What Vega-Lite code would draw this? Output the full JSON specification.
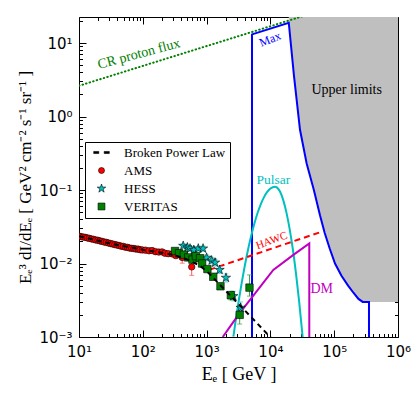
{
"$schema": "https://vega.github.io/schema/vega-lite/v6.json",
"width": 319, "height": 320,
"autosize": {"type": "none"},
"padding": {"left": 79, "top": 17, "right": 17, "bottom": 58},
"background": "white",
"config": {"view": {"stroke": "black", "strokeWidth": 1}, "axis": {"grid": false, "domain": false, "tickColor": "black", "labelColor": "black", "titleColor": "black"}},
"datasets": {
"ul": [{"E":19400,"F":18.9},{"E":23400,"F":3.6},{"E":29100,"F":0.66},{"E":37000,"F":0.23},{"E":48000,"F":0.1},{"E":60000,"F":0.045},{"E":71000,"F":0.026},{"E":85000,"F":0.016},{"E":103000,"F":0.01},{"E":130000,"F":0.0068},{"E":165000,"F":0.005},{"E":200000,"F":0.004},{"E":240000,"F":0.0033},{"E":280000,"F":0.003},{"E":351000,"F":0.003},{"E":1000000,"F":0.003}],
"blue": [{"i":0,"E":5150,"F":0.001},{"i":1,"E":5150,"F":13.1},{"i":2,"E":19400,"F":18.9},{"i":3,"E":23400,"F":3.6},{"i":4,"E":29100,"F":0.66},{"i":5,"E":37000,"F":0.23},{"i":6,"E":48000,"F":0.1},{"i":7,"E":60000,"F":0.045},{"i":8,"E":71000,"F":0.026},{"i":9,"E":85000,"F":0.016},{"i":10,"E":103000,"F":0.01},{"i":11,"E":130000,"F":0.0068},{"i":12,"E":165000,"F":0.005},{"i":13,"E":200000,"F":0.004},{"i":14,"E":240000,"F":0.0033},{"i":15,"E":280000,"F":0.003},{"i":16,"E":351000,"F":0.003},{"i":17,"E":351000,"F":0.001}],
"green": [{"E":10,"F":2.62},{"E":100000,"F":31.5}],
"hawc": [{"E":1100,"F":0.0082},{"E":63700,"F":0.0271}],
"pulsar": [{"E":2630,"F":0.00101},{"E":2818,"F":0.00154},{"E":3162,"F":0.00299},{"E":3548,"F":0.00546},{"E":3981,"F":0.00946},{"E":4467,"F":0.0155},{"E":5012,"F":0.024},{"E":5623,"F":0.0352},{"E":6310,"F":0.049},{"E":7079,"F":0.0643},{"E":7943,"F":0.08},{"E":8913,"F":0.0942},{"E":10000,"F":0.1047},{"E":11800,"F":0.111},{"E":12590,"F":0.1088},{"E":14130,"F":0.0953},{"E":15850,"F":0.0735},{"E":17780,"F":0.05},{"E":19950,"F":0.03},{"E":22390,"F":0.016},{"E":25120,"F":0.00745},{"E":28180,"F":0.00308},{"E":31620,"F":0.00112},{"E":32000,"F":0.001}],
"dm": [{"i":0,"E":1790,"F":0.001},{"i":1,"E":2500,"F":0.00151},{"i":2,"E":3340,"F":0.00214},{"i":3,"E":5000,"F":0.00336},{"i":4,"E":7500,"F":0.0053},{"i":5,"E":11100,"F":0.00816},{"i":6,"E":22900,"F":0.0131},{"i":7,"E":40700,"F":0.0188},{"i":8,"E":40700,"F":0.001}],
"bpl": [{"E":10,"F":0.0236},{"E":30,"F":0.0188},{"E":100,"F":0.0154},{"E":200,"F":0.014},{"E":300,"F":0.0131},{"E":450,"F":0.0118},{"E":600,"F":0.0105},{"E":800,"F":0.0092},{"E":1000,"F":0.0079},{"E":1500,"F":0.0055},{"E":2330,"F":0.0037},{"E":5000,"F":0.00187},{"E":9900,"F":0.001},{"E":13000,"F":0.00078}],
"pts": [
{"s":"AMS","E":10,"F":0.0236},{"s":"AMS","E":10.8,"F":0.0232},{"s":"AMS","E":11.6,"F":0.0229},{"s":"AMS","E":12.5,"F":0.0227},{"s":"AMS","E":13.5,"F":0.0223},{"s":"AMS","E":14.5,"F":0.022},{"s":"AMS","E":15.7,"F":0.0216},{"s":"AMS","E":17,"F":0.0213},{"s":"AMS","E":18.3,"F":0.0209},{"s":"AMS","E":19.8,"F":0.0207},{"s":"AMS","E":21.3,"F":0.0203},{"s":"AMS","E":23,"F":0.02},{"s":"AMS","E":24.8,"F":0.0196},{"s":"AMS","E":26.8,"F":0.0194},{"s":"AMS","E":28.9,"F":0.019},{"s":"AMS","E":31.2,"F":0.0187},{"s":"AMS","E":33.7,"F":0.0184},{"s":"AMS","E":36.4,"F":0.0181},{"s":"AMS","E":39.3,"F":0.0178},{"s":"AMS","E":42.4,"F":0.0176},{"s":"AMS","E":45.8,"F":0.0172},{"s":"AMS","E":49.4,"F":0.0171},{"s":"AMS","E":53.3,"F":0.0167},{"s":"AMS","E":57.5,"F":0.0166},{"s":"AMS","E":62.1,"F":0.0162},{"s":"AMS","E":67,"F":0.0161},{"s":"AMS","E":72.3,"F":0.016},{"s":"AMS","E":78,"F":0.0157},{"s":"AMS","E":84.2,"F":0.0157},{"s":"AMS","E":90.9,"F":0.0154},{"s":"AMS","E":98.1,"F":0.0153},{"s":"AMS","E":110,"F":0.0152},{"s":"AMS","E":125,"F":0.0149},{"s":"AMS","E":140,"F":0.015},{"s":"AMS","E":158,"F":0.0145},{"s":"AMS","E":178,"F":0.0143},{"s":"AMS","E":200,"F":0.0144},{"s":"AMS","E":222,"F":0.0138},{"s":"AMS","E":250,"F":0.0136},{"s":"AMS","E":290,"F":0.0135,"lo":0.0129,"hi":0.0141},{"s":"AMS","E":330,"F":0.0128,"lo":0.0121,"hi":0.0135},{"s":"AMS","E":415,"F":0.0121,"lo":0.0101,"hi":0.0128},{"s":"AMS","E":584,"F":0.009,"lo":0.0069,"hi":0.0106},
{"s":"HESS","E":430,"F":0.0174,"lo":0.0163,"hi":0.0185},{"s":"HESS","E":500,"F":0.0166,"lo":0.0155,"hi":0.0177},{"s":"HESS","E":550,"F":0.016,"lo":0.0149,"hi":0.0171},{"s":"HESS","E":630,"F":0.0153,"lo":0.0142,"hi":0.0164},{"s":"HESS","E":740,"F":0.016,"lo":0.0148,"hi":0.0172},{"s":"HESS","E":880,"F":0.016,"lo":0.0147,"hi":0.0173},{"s":"HESS","E":1000,"F":0.012,"lo":0.0109,"hi":0.0131},{"s":"HESS","E":1200,"F":0.011,"lo":0.0099,"hi":0.0121},{"s":"HESS","E":1360,"F":0.0103,"lo":0.0092,"hi":0.0114},{"s":"HESS","E":1600,"F":0.0082,"lo":0.0073,"hi":0.0091},{"s":"HESS","E":2010,"F":0.0064,"lo":0.0056,"hi":0.0072},{"s":"HESS","E":2620,"F":0.0036,"lo":0.0031,"hi":0.0042},{"s":"HESS","E":3420,"F":0.0025,"lo":0.0021,"hi":0.003},
{"s":"VERITAS","E":320,"F":0.0148,"lo":0.0139,"hi":0.0157},{"s":"VERITAS","E":370,"F":0.0138,"lo":0.013,"hi":0.0146},{"s":"VERITAS","E":440,"F":0.0132,"lo":0.0124,"hi":0.014},{"s":"VERITAS","E":515,"F":0.0121,"lo":0.0113,"hi":0.0129},{"s":"VERITAS","E":600,"F":0.0113,"lo":0.0105,"hi":0.0121},{"s":"VERITAS","E":680,"F":0.0126,"lo":0.0118,"hi":0.0134},{"s":"VERITAS","E":790,"F":0.0118,"lo":0.011,"hi":0.0126},{"s":"VERITAS","E":850,"F":0.01,"lo":0.0093,"hi":0.0107},{"s":"VERITAS","E":1030,"F":0.0084,"lo":0.0078,"hi":0.009},{"s":"VERITAS","E":1270,"F":0.0066,"lo":0.0061,"hi":0.0071},{"s":"VERITAS","E":1650,"F":0.0049,"lo":0.0045,"hi":0.0053},{"s":"VERITAS","E":2400,"F":0.0037,"lo":0.0032,"hi":0.0042},{"s":"VERITAS","E":3300,"F":0.002,"lo":0.0015,"hi":0.0027},{"s":"VERITAS","E":4700,"F":0.0047,"lo":0.0036,"hi":0.007}
]
},
"encoding": {
"x": {"field": "E", "type": "quantitative", "scale": {"type": "log", "domain": [10, 1000000], "nice": false}, "axis": null},
"y": {"field": "F", "type": "quantitative", "scale": {"type": "log", "domain": [0.001, 22.6], "nice": false}, "axis": null}
},
"layer": [
{"data": {"name": "ul"}, "mark": {"type": "area", "color": "#bfbfbf", "clip": true},
 "encoding": {
  "x": {"field": "E", "type": "quantitative", "scale": {"type": "log", "domain": [10, 1000000], "nice": false},
   "axis": {"orient": "bottom", "values": [10,20,30,40,50,60,70,80,90,100,200,300,400,500,600,700,800,900,1000,2000,3000,4000,5000,6000,7000,8000,9000,10000,20000,30000,40000,50000,60000,70000,80000,90000,100000,200000,300000,400000,500000,600000,700000,800000,900000,1000000],
    "labelExpr": "abs(log(datum.value)/LN10-round(log(datum.value)/LN10))<1e-6 ? ['10⁻³','10⁻²','10⁻¹','10⁰','10¹','10²','10³','10⁴','10⁵','10⁶'][round(log(datum.value)/LN10)+3] : ''",
    "labelOverlap": false, "labelFont": "DejaVu Sans", "labelFontSize": 15, "labelPadding": 14, "labelFlush": false,
    "tickSize": {"condition": {"test": "abs(log(datum.value)/LN10-round(log(datum.value)/LN10))<1e-6", "value": -7}, "value": -3.5},
    "title": "Eₑ  [ GeV ]", "titleFont": "Liberation Serif", "titleFontSize": 18, "titleFontWeight": "normal", "titlePadding": 3}},
  "y": {"field": "F", "type": "quantitative", "scale": {"type": "log", "domain": [0.001, 22.6], "nice": false},
   "axis": {"orient": "left", "values": [0.001,0.002,0.003,0.004,0.005,0.006,0.007,0.008,0.009,0.01,0.02,0.03,0.04,0.05,0.06,0.07,0.08,0.09,0.1,0.2,0.3,0.4,0.5,0.6,0.7,0.8,0.9,1,2,3,4,5,6,7,8,9,10,20],
    "labelExpr": "abs(log(datum.value)/LN10-round(log(datum.value)/LN10))<1e-6 ? ['10⁻³','10⁻²','10⁻¹','10⁰','10¹','10²','10³','10⁴','10⁵','10⁶'][round(log(datum.value)/LN10)+3] : ''",
    "labelOverlap": false, "labelFont": "DejaVu Sans", "labelFontSize": 15, "labelPadding": 14, "labelFlush": false,
    "tickSize": {"condition": {"test": "abs(log(datum.value)/LN10-round(log(datum.value)/LN10))<1e-6", "value": -7}, "value": -3.5},
    "title": "Eₑ³ dI/dEₑ  [ GeV² cm⁻² s⁻¹ sr⁻¹ ]", "titleFont": "Liberation Serif", "titleFontSize": 17, "titleFontWeight": "normal", "titlePadding": 4}},
  "y2": {"datum": 22.6}}},
{"data": {"name": "green"}, "mark": {"type": "line", "color": "#008000", "strokeWidth": 2, "strokeDash": [0.5, 3.2], "strokeCap": "round", "clip": true},
 "encoding": {
  "x": {"field": "E", "type": "quantitative", "scale": {"type": "log", "domain": [10, 1000000], "nice": false},
   "axis": {"orient": "top", "values": [10,20,30,40,50,60,70,80,90,100,200,300,400,500,600,700,800,900,1000,2000,3000,4000,5000,6000,7000,8000,9000,10000,20000,30000,40000,50000,60000,70000,80000,90000,100000,200000,300000,400000,500000,600000,700000,800000,900000,1000000],
    "labels": false, "title": null,
    "tickSize": {"condition": {"test": "abs(log(datum.value)/LN10-round(log(datum.value)/LN10))<1e-6", "value": -7}, "value": -3.5}}},
  "y": {"field": "F", "type": "quantitative", "scale": {"type": "log", "domain": [0.001, 22.6], "nice": false},
   "axis": {"orient": "right", "values": [0.001,0.002,0.003,0.004,0.005,0.006,0.007,0.008,0.009,0.01,0.02,0.03,0.04,0.05,0.06,0.07,0.08,0.09,0.1,0.2,0.3,0.4,0.5,0.6,0.7,0.8,0.9,1,2,3,4,5,6,7,8,9,10,20],
    "labels": false, "title": null,
    "tickSize": {"condition": {"test": "abs(log(datum.value)/LN10-round(log(datum.value)/LN10))<1e-6", "value": -7}, "value": -3.5}}}}},
{"data": {"name": "blue"}, "mark": {"type": "line", "color": "#0000ff", "strokeWidth": 2, "clip": true}, "encoding": {"order": {"field": "i"}}},
{"data": {"name": "pulsar"}, "mark": {"type": "line", "color": "#00bfbf", "strokeWidth": 2, "clip": true, "interpolate": "monotone"}, "encoding": {}},
{"data": {"name": "dm"}, "mark": {"type": "line", "color": "#bf00bf", "strokeWidth": 2, "clip": true}, "encoding": {"order": {"field": "i"}}},
{"data": {"name": "hawc"}, "mark": {"type": "line", "color": "#ff0000", "strokeWidth": 2, "strokeDash": [6, 4], "clip": true}, "encoding": {}},
{"data": {"name": "pts"}, "transform": [{"filter": "datum.s == 'AMS'"}], "mark": {"type": "errorbar", "ticks": true, "color": "#ff5555", "clip": true},
 "encoding": {"y": {"field": "lo", "type": "quantitative", "scale": {"type": "log", "domain": [0.001, 22.6], "nice": false}, "axis": null}, "y2": {"field": "hi"}}},
{"data": {"name": "pts"}, "transform": [{"filter": "datum.s == 'HESS'"}], "mark": {"type": "errorbar", "ticks": true, "color": "#40d0d0", "clip": true},
 "encoding": {"y": {"field": "lo", "type": "quantitative", "scale": {"type": "log", "domain": [0.001, 22.6], "nice": false}, "axis": null}, "y2": {"field": "hi"}}},
{"data": {"name": "pts"}, "transform": [{"filter": "datum.s == 'VERITAS'"}], "mark": {"type": "errorbar", "ticks": true, "color": "#40a040", "clip": true},
 "encoding": {"y": {"field": "lo", "type": "quantitative", "scale": {"type": "log", "domain": [0.001, 22.6], "nice": false}, "axis": null}, "y2": {"field": "hi"}}},
{"data": {"name": "pts"}, "mark": {"type": "point", "filled": true, "stroke": "black", "strokeWidth": 0.6, "opacity": 1, "size": 42, "clip": true},
 "encoding": {
  "color": {"field": "s", "type": "nominal", "scale": {"domain": ["Broken Power Law", "AMS", "HESS", "VERITAS"], "range": ["black", "#ff0000", "#00bfbf", "#008000"]},
   "legend": {"orient": "none", "legendX": 6, "legendY": 125, "title": null, "fillColor": "white", "strokeColor": "black", "padding": 4, "labelFont": "Liberation Serif", "labelFontSize": 13, "symbolStrokeColor": "black", "symbolStrokeWidth": 0.6, "symbolSize": 36, "rowPadding": 4, "labelOffset": 16, "symbolOffset": 6}},
  "shape": {"field": "s", "type": "nominal", "scale": {"domain": ["Broken Power Law", "AMS", "HESS", "VERITAS"], "range": ["M-2.6,-0.35H-0.9V0.35H-2.6Z M0.9,-0.35H2.6V0.35H0.9Z", "circle", "M0,-1.5L0.337,-0.464L1.427,-0.464L0.545,0.177L0.882,1.214L0,0.573L-0.882,1.214L-0.545,0.177L-1.427,-0.464L-0.337,-0.464Z", "M-1.15,-1.15H1.15V1.15H-1.15Z"]},
   "legend": {"orient": "none", "legendX": 6, "legendY": 125, "title": null, "fillColor": "white", "strokeColor": "black", "padding": 4, "labelFont": "Liberation Serif", "labelFontSize": 13, "symbolStrokeColor": "black", "symbolStrokeWidth": 0.6, "symbolSize": 36, "rowPadding": 4, "labelOffset": 16, "symbolOffset": 6}}}},
{"data": {"name": "bpl"}, "mark": {"type": "line", "color": "black", "strokeWidth": 2, "strokeDash": [5, 4], "clip": true}, "encoding": {}},
{"data": {"values": [{"E": 87, "F": 7.08, "t": "CR proton flux"}]}, "mark": {"type": "text", "angle": -15, "color": "#008000", "font": "Liberation Serif", "fontSize": 14}, "encoding": {"text": {"field": "t"}}},
{"data": {"values": [{"E": 9860, "F": 11.3, "t": "Max"}]}, "mark": {"type": "text", "angle": -22, "color": "#0000ff", "font": "Liberation Serif", "fontSize": 12}, "encoding": {"text": {"field": "t"}}},
{"data": {"values": [{"E": 157000, "F": 2.3, "t": "Upper limits"}]}, "mark": {"type": "text", "color": "black", "font": "Liberation Serif", "fontSize": 14}, "encoding": {"text": {"field": "t"}}},
{"data": {"values": [{"E": 11100, "F": 0.137, "t": "Pulsar"}]}, "mark": {"type": "text", "color": "#00bfbf", "font": "Liberation Serif", "fontSize": 13.5}, "encoding": {"text": {"field": "t"}}},
{"data": {"values": [{"E": 10500, "F": 0.0204, "t": "HAWC"}]}, "mark": {"type": "text", "angle": -20, "color": "#ff0000", "font": "Liberation Serif", "fontSize": 11}, "encoding": {"text": {"field": "t"}}},
{"data": {"values": [{"E": 63700, "F": 0.00446, "t": "DM"}]}, "mark": {"type": "text", "color": "#bf00bf", "font": "Liberation Serif", "fontSize": 14}, "encoding": {"text": {"field": "t"}}}
],
"resolve": {"axis": {"x": "independent", "y": "independent"}}
}
